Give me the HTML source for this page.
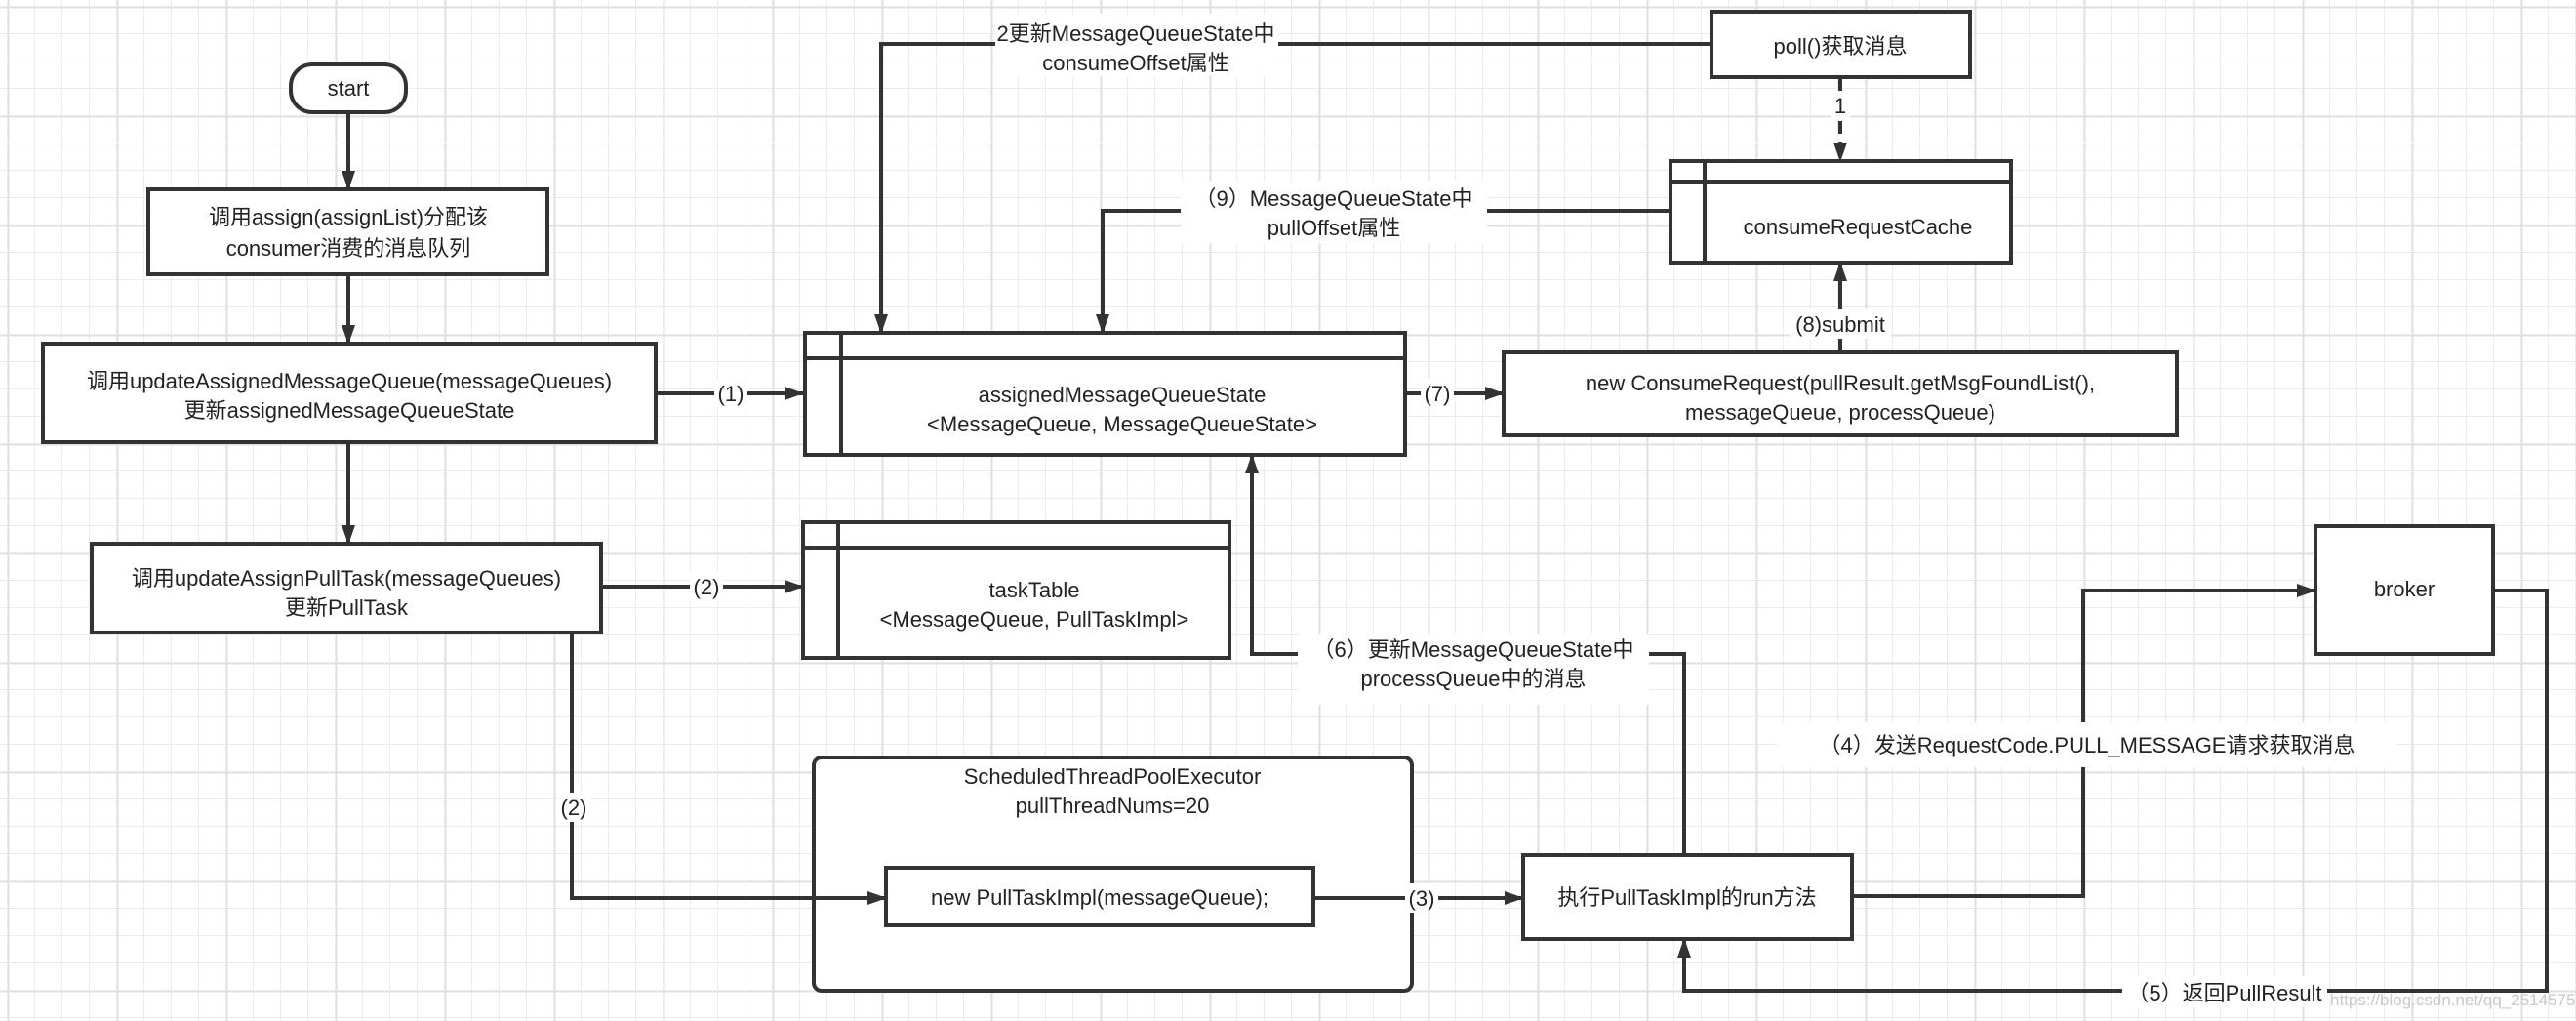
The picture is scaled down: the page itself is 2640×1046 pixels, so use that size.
<!DOCTYPE html>
<html><head><meta charset="utf-8"><style>
html,body{margin:0;padding:0;background:#fff}
svg{display:block}
text{font-family:"Liberation Sans","Noto Sans CJK SC",sans-serif;font-size:22px;fill:#222}
</style></head><body>
<svg width="2640" height="1046" viewBox="0 0 2640 1046" xmlns="http://www.w3.org/2000/svg">
<defs>
<pattern id="minor" x="8" y="7" width="28" height="28" patternUnits="userSpaceOnUse">
<path d="M28 0V28M0 28H28" stroke="#ececec" stroke-width="2" fill="none"/>
</pattern>
<pattern id="major" x="8" y="7" width="112" height="112" patternUnits="userSpaceOnUse">
<path d="M0 0V112M0 0H112" stroke="#e0e0e0" stroke-width="3" fill="none"/>
</pattern>
<marker id="ah" viewBox="0 0 20 20" refX="19" refY="10" markerWidth="20" markerHeight="20" markerUnits="userSpaceOnUse" orient="auto">
<path d="M0 3 L20 10 L0 17 Z" fill="#333"/>
</marker>
</defs>
<rect width="2640" height="1046" fill="#fff"/>
<rect width="2640" height="1046" fill="url(#minor)"/>
<rect width="2640" height="1046" fill="url(#major)"/>

<g stroke="#333" stroke-width="4" fill="#fff">
<rect x="298" y="66" width="118" height="49" rx="22"/>
<rect x="152" y="194" width="409" height="87"/>
<rect x="44" y="352" width="628" height="101"/>
<rect x="94" y="557" width="522" height="91"/>
<rect x="825" y="341" width="615" height="125"/>
<rect x="1754" y="12" width="265" height="67"/>
<rect x="1712" y="165" width="349" height="104"/>
<rect x="1541" y="361" width="690" height="85"/>
<rect x="823" y="535" width="437" height="139"/>
<rect x="2373" y="539" width="182" height="131"/>
<rect x="834" y="776" width="613" height="239" rx="8"/>
<rect x="908" y="889" width="438" height="59"/>
<rect x="1561" y="876" width="337" height="86"/>
</g>
<g stroke="#333" stroke-width="4" fill="none">
<path d="M825 367H1440M862 341V466"/>
<path d="M1712 186H2061M1747 165V269"/>
<path d="M823 561H1260M859 535V674"/>
</g>

<g stroke="#333" stroke-width="4" fill="none" marker-end="url(#ah)">
<path d="M357 115V194"/>
<path d="M357 281V352"/>
<path d="M357 453V557"/>
<path d="M672 403H823"/>
<path d="M616 601H823"/>
<path d="M586 648V920H908"/>
<path d="M1346 920H1561"/>
<path d="M1898 918H2135V605H2373"/>
<path d="M2555 605H2610V1015H1726V962"/>
<path d="M1726 876V670H1283V466"/>
<path d="M1440 403H1541"/>
<path d="M1886 361V269"/>
<path d="M1886 79V165" stroke-dasharray="14 8"/>
<path d="M1712 216H1130V341"/>
<path d="M1754 45H903V341"/>
</g>

<g fill="#fff">
<rect x="732" y="388" width="34" height="30"/>
<rect x="707" y="586" width="34" height="30"/>
<rect x="571" y="812" width="34" height="30"/>
<rect x="1440" y="905" width="34" height="30"/>
<rect x="1456" y="388" width="34" height="30"/>
<rect x="1834" y="317" width="104" height="30"/>
<rect x="1876" y="94" width="20" height="30"/>
<rect x="1822" y="740" width="634" height="46"/>
<rect x="2175" y="1000" width="210" height="32"/>
<rect x="1330" y="650" width="360" height="72"/>
<rect x="1210" y="185" width="314" height="64"/>
<rect x="1020" y="14" width="290" height="64"/>
</g>

<g text-anchor="middle">
<text x="357" y="98">start</text>
<text x="357" y="230">调用assign(assignList)分配该</text>
<text x="357" y="262">consumer消费的消息队列</text>
<text x="358" y="398">调用updateAssignedMessageQueue(messageQueues)</text>
<text x="358" y="428">更新assignedMessageQueueState</text>
<text x="355" y="600">调用updateAssignPullTask(messageQueues)</text>
<text x="355" y="630">更新PullTask</text>
<text x="1150" y="412">assignedMessageQueueState</text>
<text x="1150" y="442">&lt;MessageQueue, MessageQueueState&gt;</text>
<text x="1886" y="55">poll()获取消息</text>
<text x="1904" y="240">consumeRequestCache</text>
<text x="1886" y="400">new ConsumeRequest(pullResult.getMsgFoundList(),</text>
<text x="1886" y="430">messageQueue, processQueue)</text>
<text x="1060" y="612">taskTable</text>
<text x="1060" y="642">&lt;MessageQueue, PullTaskImpl&gt;</text>
<text x="2464" y="611">broker</text>
<text x="1140" y="803">ScheduledThreadPoolExecutor</text>
<text x="1140" y="833">pullThreadNums=20</text>
<text x="1127" y="927">new PullTaskImpl(messageQueue);</text>
<text x="1729" y="927">执行PullTaskImpl的run方法</text>
<text x="749" y="411">(1)</text>
<text x="724" y="609">(2)</text>
<text x="588" y="835">(2)</text>
<text x="1457" y="928">(3)</text>
<text x="1473" y="411">(7)</text>
<text x="1886" y="340">(8)submit</text>
<text x="1886" y="116">1</text>
<text x="2139" y="771">（4）发送RequestCode.PULL_MESSAGE请求获取消息</text>
<text x="2280" y="1025">（5）返回PullResult</text>
<text x="1510" y="673">（6）更新MessageQueueState中</text>
<text x="1510" y="703">processQueue中的消息</text>
<text x="1367" y="211">（9）MessageQueueState中</text>
<text x="1367" y="241">pullOffset属性</text>
<text x="1164" y="42">2更新MessageQueueState中</text>
<text x="1164" y="72">consumeOffset属性</text>
</g>
<text x="2388" y="1030" style="font-size:17px;fill:#c8c8c8">https://blog.csdn.net/qq_25145759</text>
</svg>
</body></html>
